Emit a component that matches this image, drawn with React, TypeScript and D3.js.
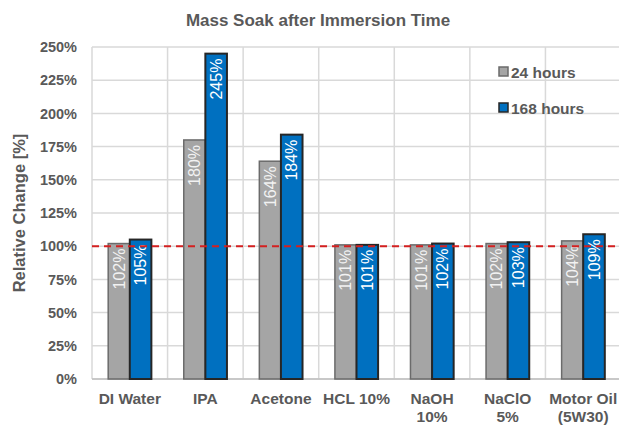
import React from 'react';
import * as d3 from 'd3';

const categories = [['DI Water'], ['IPA'], ['Acetone'], ['HCL 10%'], ['NaOH', '10%'], ['NaClO', '5%'], ['Motor Oil', '(5W30)']];
const hours24 = [102, 180, 164, 101, 101, 102, 104];
const hours168 = [105, 245, 184, 101, 102, 103, 109];
const seriesNames = ['24 hours', '168 hours'];
const yTicks = [0, 25, 50, 75, 100, 125, 150, 175, 200, 225, 250];
const referenceLine = 100;

const W = 619;
const H = 425;
const margin = { top: 47, right: -2, bottom: 46, left: 92 };
const font = '"Liberation Sans", Arial, sans-serif';
const textColor = '#595959';
const fills = ['#a5a5a5', '#0070c0'];
const strokes = ['#6b6b6b', '#262626'];

const App = () => {
  const innerW = W - margin.left - margin.right;
  const innerH = H - margin.top - margin.bottom;

  const x0 = d3.scaleBand<number>()
    .domain(categories.map((_, i) => i))
    .range([0, innerW])
    .paddingInner(0)
    .paddingOuter(0);
  const x1 = d3.scaleBand<number>()
    .domain([0, 1])
    .range([0, x0.bandwidth()])
    .paddingInner(0)
    .paddingOuter(0.75);
  const y = d3.scaleLinear().domain([0, 250]).range([innerH, 0]);

  const series = [hours24, hours168];

  return (
    <svg width={W} height={H} style={{ position: 'absolute', left: 0, top: 0, background: '#fff' }} fontFamily={font}>
      <text x={318} y={26} textAnchor="middle" fontSize={17} fontWeight="bold" fill={textColor}>
        Mass Soak after Immersion Time
      </text>
      <text
        transform={`translate(25, ${213}) rotate(-90)`}
        textAnchor="middle"
        fontSize={16.5}
        fontWeight="bold"
        fill={textColor}
      >
        Relative Change [%]
      </text>
      <g transform={`translate(${margin.left}, ${margin.top})`}>
        {/* horizontal gridlines */}
        {yTicks.map(t => (
          <line key={`h${t}`} x1={0} x2={innerW} y1={y(t)} y2={y(t)} stroke="#d9d9d9" strokeWidth={1.5} />
        ))}
        {/* vertical gridlines at category boundaries */}
        {categories.map((_, i) => (
          <line key={`v${i}`} x1={x0(i)} x2={x0(i)} y1={0} y2={innerH} stroke="#d9d9d9" strokeWidth={1.5} />
        ))}
        <line x1={0} x2={innerW} y1={innerH} y2={innerH} stroke="#bfbfbf" strokeWidth={1.5} />
        {/* y tick labels */}
        {yTicks.map(t => (
          <text key={`yl${t}`} x={-15} y={y(t)} dy="0.36em" textAnchor="end" fontSize={14.5} fontWeight="bold" fill={textColor}>
            {t}%
          </text>
        ))}
        {/* bars */}
        {series.map((vals, s) =>
          vals.map((v, i) => {
            const bx = (x0(i) as number) + (x1(s) as number);
            const bw = x1.bandwidth();
            return (
              <g key={`b${s}-${i}`}>
                <rect x={bx} y={y(v)} width={bw} height={innerH - y(v)} fill={fills[s]} stroke={strokes[s]} strokeWidth={s === 0 ? 1.5 : 2} />
                <text
                  transform={`translate(${bx + bw / 2}, ${y(v) + 5}) rotate(-90)`}
                  textAnchor="end"
                  dy="0.35em"
                  fontSize={16}
                  fill={s === 0 ? '#f2f2f2' : '#ffffff'}
                >
                  {v}%
                </text>
              </g>
            );
          })
        )}
        {/* reference line */}
        <line x1={0} x2={innerW} y1={y(referenceLine)} y2={y(referenceLine)} stroke="#d42020" strokeWidth={2} strokeDasharray="7,5" />
        {/* x labels */}
        {categories.map((lines, i) => (
          <text key={`xl${i}`} x={(x0(i) as number) + x0.bandwidth() / 2} y={innerH + 25} textAnchor="middle" fontSize={15.5} fontWeight="bold" fill={textColor}>
            {lines.map((l, k) => (
              <tspan key={k} x={(x0(i) as number) + x0.bandwidth() / 2} dy={k === 0 ? 0 : 18}>{l}</tspan>
            ))}
          </text>
        ))}
      </g>
      {/* legend */}
      {seriesNames.map((name, s) => (
        <g key={`lg${s}`} transform={`translate(499, ${72 + s * 36})`}>
          <rect x={0} y={-5} width={9} height={9} fill={fills[s]} stroke={strokes[s]} strokeWidth={1.5} />
          <text x={12} y={0} dy="0.36em" fontSize={15.5} fontWeight="bold" fill={textColor}>{name}</text>
        </g>
      ))}
    </svg>
  );
};

export default App;
